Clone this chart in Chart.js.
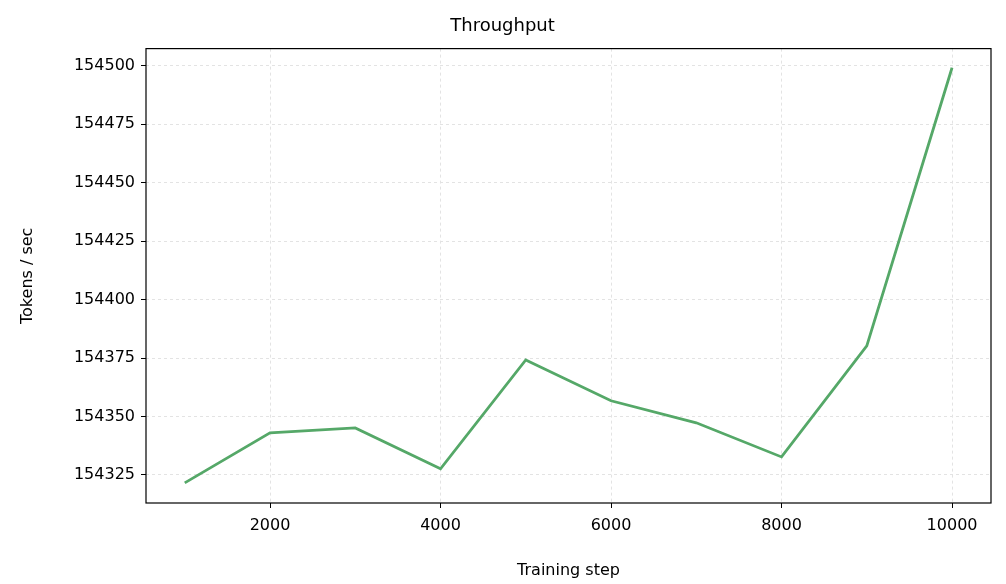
<!DOCTYPE html>
<html><head><script src="https://cdn.jsdelivr.net/npm/chart.js@4"></script>
<style>body{margin:0;background:#fff}#w{width:1006px;height:584px}</style></head>
<body><div id="w"><canvas id="c"></canvas></div>
<script>
const steps=[1000,2000,3000,4000,5000,6000,7000,8000,9000,10000];
const tokensPerSec=[154321.6,154343,154345.1,154327.6,154374.2,154356.7,154347.3,154332.7,154380.2,154499.1];
const yTicks=[154325,154350,154375,154400,154425,154450,154475,154500];
const xTicks=[2000,4000,6000,8000,10000];
const font={family:'DejaVu Sans',size:16};
const box={id:'box',afterDraw(c){const a=c.chartArea,x=c.ctx;x.save();x.strokeStyle='#000';x.lineWidth=1.2;x.strokeRect(a.left,a.top,a.right-a.left,a.bottom-a.top);x.restore();}};
new Chart(document.getElementById('c'),{type:'line',
data:{datasets:[{data:steps.map((s,i)=>({x:s,y:tokensPerSec[i]})),borderColor:'#55a868',borderWidth:2.8,pointRadius:0,tension:0}]},
options:{responsive:true,maintainAspectRatio:false,animation:false,
layout:{padding:{top:0,right:15,left:14,bottom:0}},
plugins:{legend:{display:false},tooltip:{enabled:false},title:{display:true,text:'Throughput',color:'#000',font:{family:'DejaVu Sans',size:18,weight:'normal'},padding:{top:16,bottom:11}}},
scales:{
x:{type:'linear',min:545.5,max:10457,afterBuildTicks(s){s.ticks=xTicks.map(v=>({value:v}));},afterFit(s){s.height=81;},
 ticks:{color:'#000',font,padding:8,callback:v=>String(v)},grid:{color:'#e3e3e3',tickColor:'#000',tickLength:5},border:{display:false,dash:[3,3]},
 title:{display:true,text:'Training step',color:'#000',font,padding:{top:6}}},
y:{min:154313,max:154507.3,afterBuildTicks(s){s.ticks=yTicks.map(v=>({value:v}));},afterFit(s){s.width=132;},
 ticks:{color:'#000',font,padding:6,callback:v=>String(v)},grid:{color:'#e3e3e3',tickColor:'#000',tickLength:5},border:{display:false,dash:[3,3]},
 title:{display:true,text:'Tokens / sec',color:'#000',font,padding:{bottom:4}}}}},
plugins:[box]});
</script></body></html>
